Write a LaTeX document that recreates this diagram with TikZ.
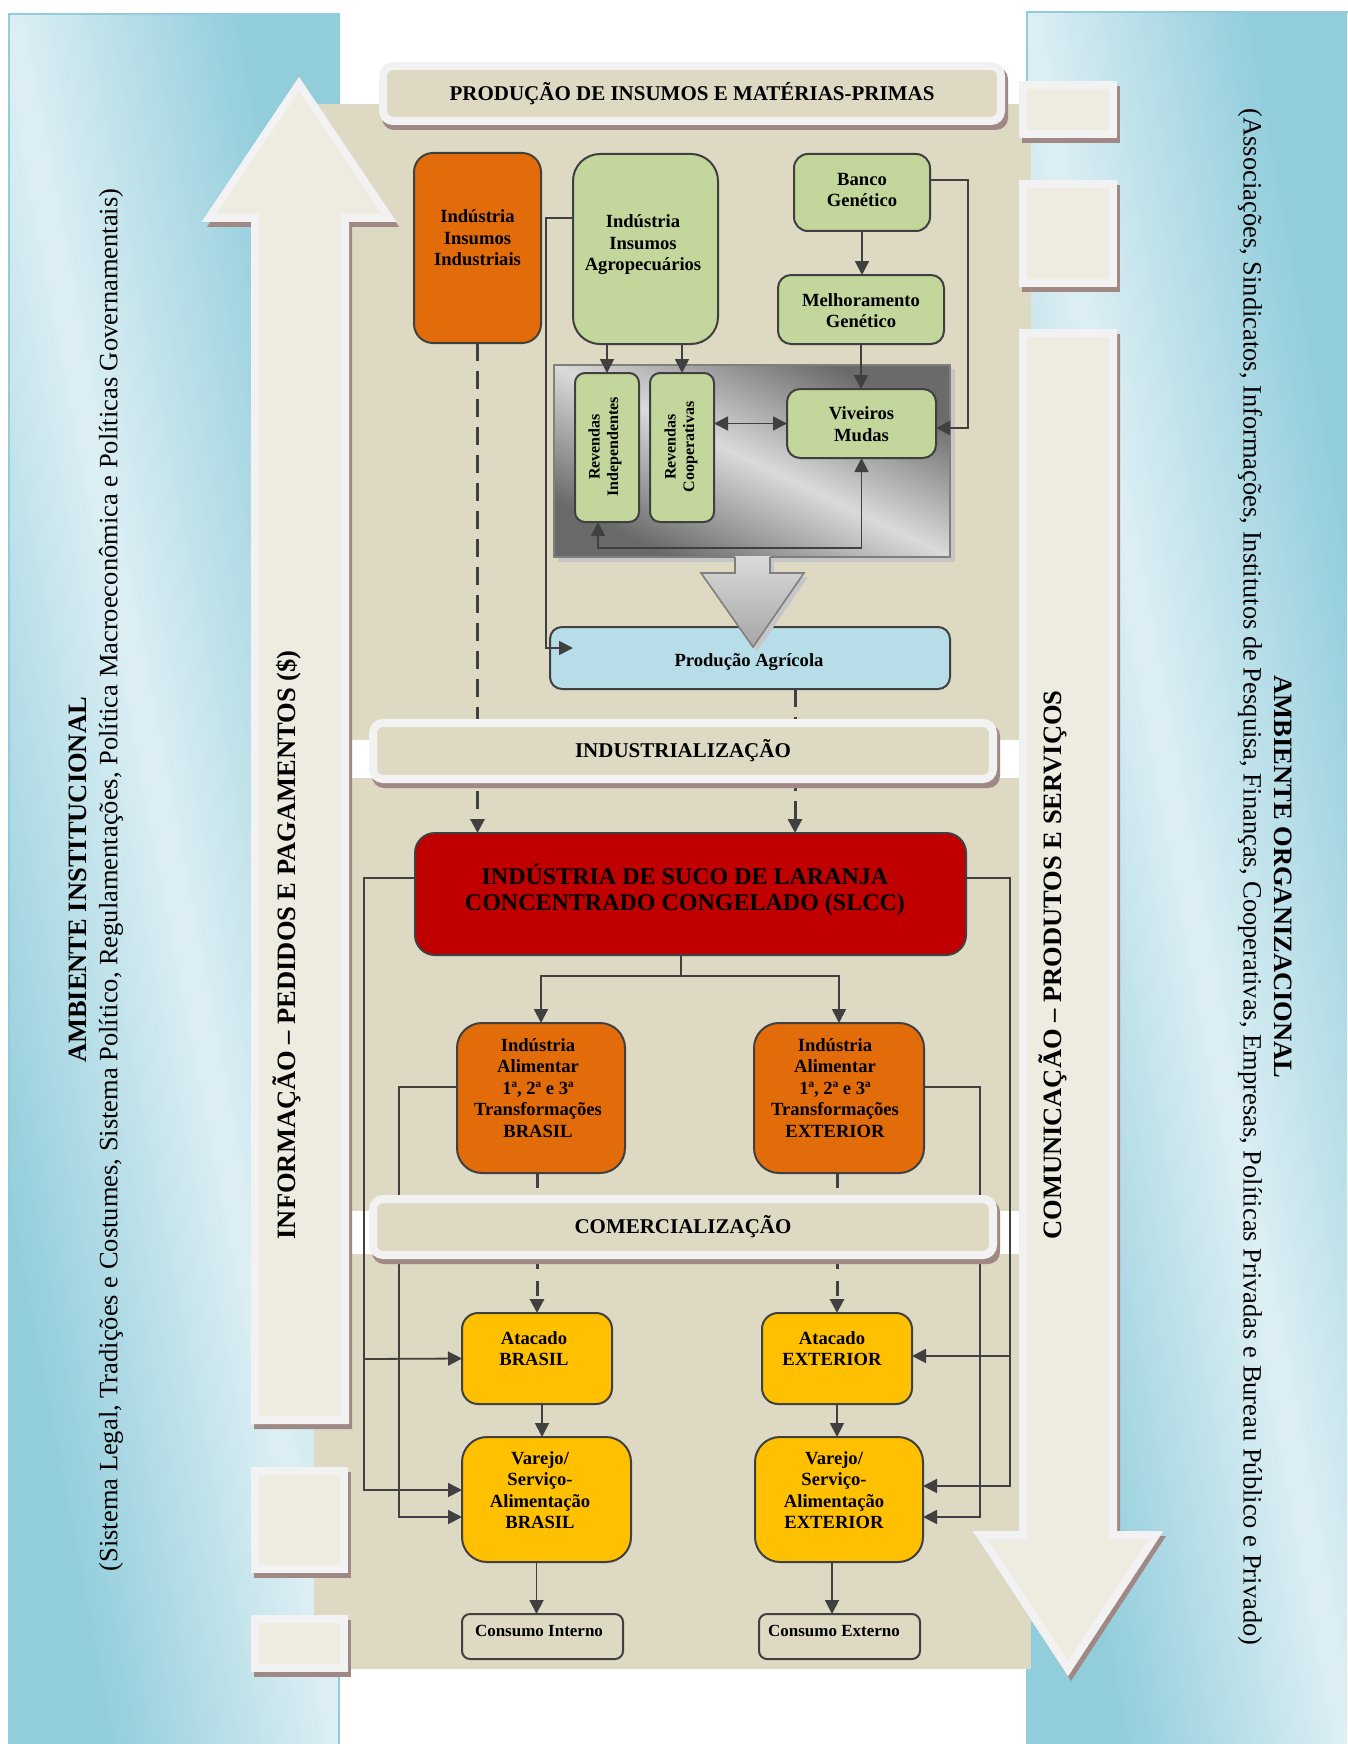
\documentclass[tikz,border=0pt]{standalone}
\usepackage{fontspec}
\setmainfont{Liberation Serif}
\usetikzlibrary{arrows.meta,calc}
\definecolor{beigebg}{HTML}{DDD9C3}
\definecolor{creamc}{HTML}{EEECE1}
\definecolor{wbord}{HTML}{F2F2F2}
\definecolor{shadc}{HTML}{A08985}
\definecolor{panell}{HTML}{DDEFF4}
\definecolor{paneld}{HTML}{92CDDC}
\definecolor{panelb}{HTML}{93CDDD}
\definecolor{lineg}{HTML}{404040}
\definecolor{orangec}{HTML}{E36C0A}
\definecolor{greenc}{HTML}{C3D69B}
\definecolor{bluec}{HTML}{B7DEE8}
\definecolor{redc}{HTML}{C00000}
\definecolor{yellowc}{HTML}{FFC000}
\definecolor{grayd}{HTML}{6A6A6A}
\definecolor{grayl}{HTML}{DADADA}
\definecolor{grayb}{HTML}{7F7F7F}
\begin{document}
\begin{tikzpicture}[x=1pt,y=-1pt,
  box/.style={draw=lineg, line width=2pt, inner sep=0pt, outer sep=0pt},
  conn/.style={draw=lineg, line width=1.8pt},
  arr/.style={conn, -{Triangle[length=14pt,width=14pt]}},
  darr/.style={conn, {Triangle[length=14pt,width=14pt]}-{Triangle[length=14pt,width=14pt]}},
  dashconn/.style={draw=lineg, line width=3pt, dash pattern=on 18pt off 10pt, -{Triangle[length=14pt,width=14pt]}},
  dashconnb/.style={draw=lineg, line width=3pt, dash pattern=on 15pt off 12pt, -{Triangle[length=14pt,width=14pt]}},
  btxt/.style={font=\fontsize{18.6}{21.5}\selectfont\bfseries, align=center, inner sep=0pt},
  rtxt/.style={font=\fontsize{16}{18.4}\selectfont\bfseries, align=center, inner sep=0pt, rotate=90},
  ctxt/.style={font=\fontsize{17}{20}\selectfont\bfseries, inner sep=0pt},
  sidetxt/.style={font=\fontsize{26.5}{31}\selectfont, align=center, inner sep=0pt},
  flowtxt/.style={font=\fontsize{26.5}{31}\selectfont\bfseries, inner sep=0pt, rotate=90},
  hbar/.style={draw=wbord, line width=8pt, fill=beigebg, rounded corners=10pt, minimum width=620pt, minimum height=56pt, inner sep=0pt, font=\fontsize{21}{25}\selectfont\bfseries},
  cream/.style={fill=creamc, draw=wbord, line width=8pt, line join=miter},
  panelshade/.style={top color=paneld, bottom color=paneld, middle color=panell, shading angle=-45},
  grayshade/.style={top color=grayd, bottom color=grayd, middle color=grayl, shading angle=-45},
]
\useasboundingbox (0,0) rectangle (1347,1744);
\fill[white] (0,0) rectangle (1347,1744);
% side panels (diagonal gradient mapped from a unit square)
\shade[panelshade, transform canvas={shift={(9,14)}, xscale=3.30, yscale=17.30}] (0,0) rectangle (100,100);
\draw[panelb, line width=1.5pt] (9,14) rectangle (339,1752);
\shade[panelshade, transform canvas={shift={(1027,12)}, xscale=3.20, yscale=17.32}] (0,0) rectangle (100,100);
\draw[panelb, line width=1.5pt] (1027,12) rectangle (1355,1752);
% beige background
\fill[beigebg] (314,104) rectangle (1031,1669);
\fill[white] (340,740) rectangle (1025,778);
\fill[white] (340,1211) rectangle (1025,1254);
% up arrow (left)
\fill[shadc] (302,82) -- (399,227) -- (352,227) -- (352,1429) -- (254,1429) -- (254,227) -- (207,227) -- cycle;
\draw[cream] (299,84) -- (389,218) -- (345,218) -- (345,1420) -- (255,1420) -- (255,218) -- (209,218) -- cycle;
\fill[shadc] (254,1472) rectangle (351,1578);
\draw[cream] (255,1471) rectangle (344,1569);
\fill[shadc] (254,1620) rectangle (351,1677);
\draw[cream] (255,1619) rectangle (344,1668);
% down arrow (right)
\fill[shadc] (1022,86) rectangle (1120,143);
\draw[cream] (1023,85) rectangle (1113,134);
\fill[shadc] (1022,185) rectangle (1120,292);
\draw[cream] (1023,184) rectangle (1113,283);
\fill[shadc] (1022,334) -- (1120,334) -- (1120,1536) -- (1166,1536) -- (1071,1681) -- (976,1536) -- (1022,1536) -- cycle;
\draw[cream] (1023,333) -- (1113,333) -- (1113,1535) -- (1156,1535) -- (1068,1669) -- (980,1535) -- (1023,1535) -- cycle;
% side texts
\node[sidetxt, rotate=90] (amb1) at (96,880) {\textbf{AMBIENTE INSTITUCIONAL}\\(Sistema Legal, Tradições e Costumes, Sistema Político, Regulamentações, Política Macroeconômica e Políticas Governamentais)};
\node[sidetxt, rotate=-90] (amb2) at (1265,877) {\textbf{AMBIENTE ORGANIZACIONAL}\\(Associações, Sindicatos, Informações, Institutos de Pesquisa, Finanças, Cooperativas, Empresas, Políticas Privadas e Bureau Público e Privado)};
\node[flowtxt] (info) at (287,945) {INFORMAÇÃO – PEDIDOS E PAGAMENTOS (\$)};
\node[flowtxt] (comu) at (1053,965) {COMUNICAÇÃO – PRODUTOS E SERVIÇOS};

% ---- production block
\fill[gray!45] (558,369) rectangle (955,562);
\shade[grayshade, transform canvas={shift={(554,365)}, xscale=3.96, yscale=1.92}] (0,0) rectangle (100,100);
\node[draw=grayb, line width=2pt, minimum width=396pt, minimum height=192pt, inner sep=0pt] (grp) at (752,461) {};

\node[box, fill=orangec, rounded corners=19pt, minimum width=127pt, minimum height=190pt] (iii) at (477.5,248) {};
\node[btxt] (iiit) at (477.5,238) {Indústria\\Insumos\\Industriais};
\node[box, fill=greenc, rounded corners=27pt, minimum width=145pt, minimum height=190pt] (iia) at (645.5,249) {};
\node[btxt] (iiat) at (643,245) {Indústria\\Insumos\\Agropecuários};
\node[box, fill=greenc, rounded corners=14pt, minimum width=136pt, minimum height=77pt] (banco) at (862,192.5) {};
\node[btxt] (bancot) at (862,190) {Banco\\Genético};
\node[box, fill=greenc, rounded corners=13pt, minimum width=166pt, minimum height=69pt] (melh) at (861,309.5) {};
\node[btxt] (melht) at (861,310.5) {Melhoramento\\Genético};
\node[box, fill=greenc, rounded corners=10pt, minimum width=64pt, minimum height=149pt] (revind) at (607,447.5) {};
\node[rtxt] (revindt) at (605,447) {Revendas\\Independentes};
\node[box, fill=greenc, rounded corners=10pt, minimum width=64pt, minimum height=149pt] (revcoop) at (682,447.5) {};
\node[rtxt] (revcoopt) at (681,447) {Revendas\\Cooperativas};
\node[box, fill=greenc, rounded corners=13pt, minimum width=149pt, minimum height=69pt] (viv) at (861.5,423.5) {};
\node[btxt] (vivt) at (861.5,424) {Viveiros\\Mudas};
\node[box, fill=bluec, rounded corners=12pt, minimum width=400pt, minimum height=62pt] (pa) at (750,658) {};
\node[btxt] (pat) at (749,662) {Produção Agrícola};

% big gray arrow
\fill[gray!45] (739,561) -- (774,561) -- (774,577) -- (808,577) -- (757,651) -- (705,577) -- (739,577) -- cycle;
\shade[top color=grayl, bottom color=gray!70] (735,556) -- (770,556) -- (770,573) -- (804,573) -- (753,647) -- (701,573) -- (735,573) -- cycle;
\draw[grayb, line width=1.6pt, line join=miter] (770,557) -- (770,573) -- (804,573) -- (753,647) -- (701,573) -- (735,573) -- (735,557);

% production connectors
\draw[arr] (iia.south -| revind.north) -- (revind.north);
\draw[arr] (iia.south -| revcoop.north) -- (revcoop.north);
\draw[arr] (banco.south) -- (banco.south |- melh.north);
\draw[arr] (melh.south) -- (melh.south |- viv.north);
\coordinate (bendA) at (968,428);
\draw[arr] ([yshift=12.5pt]banco.east) -| (bendA) -- ([yshift=-4.5pt]viv.east);
\draw[darr] (revcoop.east |- viv.west) -- (viv.west);
\coordinate (bendB) at (861.5,548);
\draw[darr] (viv.south) -- (bendB) -| ([xshift=-9pt]revind.south);
\coordinate (bendC) at (546,648);
\draw[arr] ([yshift=31pt]iia.west) -| (bendC) -- ([xshift=23pt,yshift=10pt]pa.west);

% ---- industry block
\node[box, fill=redc, rounded corners=20pt, minimum width=551pt, minimum height=122pt] (slcc) at (690.5,894) {};
\node[font=\fontsize{24}{26}\selectfont\bfseries, align=center, inner sep=0pt] (slcct) at (685,890) {INDÚSTRIA DE SUCO DE LARANJA\\CONCENTRADO CONGELADO (SLCC)};
\draw[dashconn] (iii.south) -- (iii.south |- slcc.north);
\draw[dashconn] ([xshift=45pt]pa.south) -- ([xshift=45pt]pa.south |- slcc.north);

\node[box, fill=orangec, rounded corners=25pt, minimum width=168pt, minimum height=150pt] (iab) at (541,1098) {};
\node[btxt] (iabt) at (538,1088) {Indústria\\Alimentar\\1ª, 2ª e 3ª\\Transformações\\BRASIL};
\node[box, fill=orangec, rounded corners=25pt, minimum width=170pt, minimum height=150pt] (iae) at (839,1098) {};
\node[btxt] (iaet) at (835,1088) {Indústria\\Alimentar\\1ª, 2ª e 3ª\\Transformações\\EXTERIOR};

\coordinate (sp) at (681,976);
\draw[conn] ([xshift=-9.5pt]slcc.south) -- (sp);
\draw[arr] (sp) -| (iab.north);
\draw[arr] (sp) -| (iae.north);

% ---- commerce block
\node[box, fill=yellowc, rounded corners=16pt, minimum width=150pt, minimum height=91pt] (atb) at (537,1358.5) {};
\node[btxt] (atbt) at (534,1348.5) {Atacado\\BRASIL};
\node[box, fill=yellowc, rounded corners=16pt, minimum width=150pt, minimum height=91pt] (ate) at (837,1358.5) {};
\node[btxt] (atet) at (832,1348.5) {Atacado\\EXTERIOR};
\node[box, fill=yellowc, rounded corners=25pt, minimum width=169pt, minimum height=125pt] (vab) at (546.5,1499.5) {};
\node[btxt] (vabt) at (540,1490) {Varejo/\\Serviço-\\Alimentação\\BRASIL};
\node[box, fill=yellowc, rounded corners=25pt, minimum width=168pt, minimum height=125pt] (vae) at (839,1499.5) {};
\node[btxt] (vaet) at (834,1490) {Varejo/\\Serviço-\\Alimentação\\EXTERIOR};
\node[box, fill=beigebg, rounded corners=8pt, minimum width=161pt, minimum height=45pt] (ci) at (542.5,1636.5) {};
\node[ctxt] (cit) at (539,1631) {Consumo Interno};
\node[box, fill=beigebg, rounded corners=8pt, minimum width=161pt, minimum height=45pt] (ce) at (839.5,1636.5) {};
\node[ctxt] (cet) at (834,1631) {Consumo Externo};

\draw[dashconnb] (atb.north |- iab.south) -- (atb.north);
\draw[dashconnb] (ate.north |- iae.south) -- (ate.north);
\draw[arr] ([xshift=5pt]atb.south) -- ([xshift=5pt]atb.south |- vab.north);
\draw[arr] (ate.south) -- (ate.south |- vae.north);
\draw[arr] ([xshift=-6pt]ci.north |- vab.south) -- ([xshift=-6pt]ci.north);
\draw[arr] ([xshift=-7.5pt]ce.north |- vae.south) -- ([xshift=-7.5pt]ce.north);

\coordinate (lo) at (364,1359);
\draw[arr] ([yshift=16pt]slcc.west) -| (lo) -- (atb.west);
\draw[arr] (lo) |- ([yshift=9.5pt]vab.west);
\coordinate (li) at (399,1517);
\draw[arr] ([yshift=11pt]iab.west) -| (li) -- ([yshift=-17.5pt]vab.west);
\coordinate (ro) at (1010,1356);
\draw[arr] ([yshift=16pt]slcc.east) -| (ro) -- ([yshift=2.5pt]ate.east);
\draw[arr] (ro) |- ([yshift=13.5pt]vae.east);
\coordinate (ri) at (980,1517);
\draw[arr] ([yshift=11pt]iae.east) -| (ri) -- ([yshift=-17.5pt]vae.east);

% ---- stage header bars
\fill[shadc, rounded corners=12pt] (382,67) rectangle (1008,130);
\node[hbar, minimum width=618pt, minimum height=55pt] (prod) at (692,93.5) {PRODUÇÃO DE INSUMOS E MATÉRIAS-PRIMAS};
\fill[shadc, rounded corners=12pt] (372,724) rectangle (1000,788);
\node[hbar] (indz) at (683,751) {INDUSTRIALIZAÇÃO};
\fill[shadc, rounded corners=12pt] (372,1200) rectangle (1000,1264);
\node[hbar] (comz) at (683,1227) {COMERCIALIZAÇÃO};
\end{tikzpicture}
\end{document}
